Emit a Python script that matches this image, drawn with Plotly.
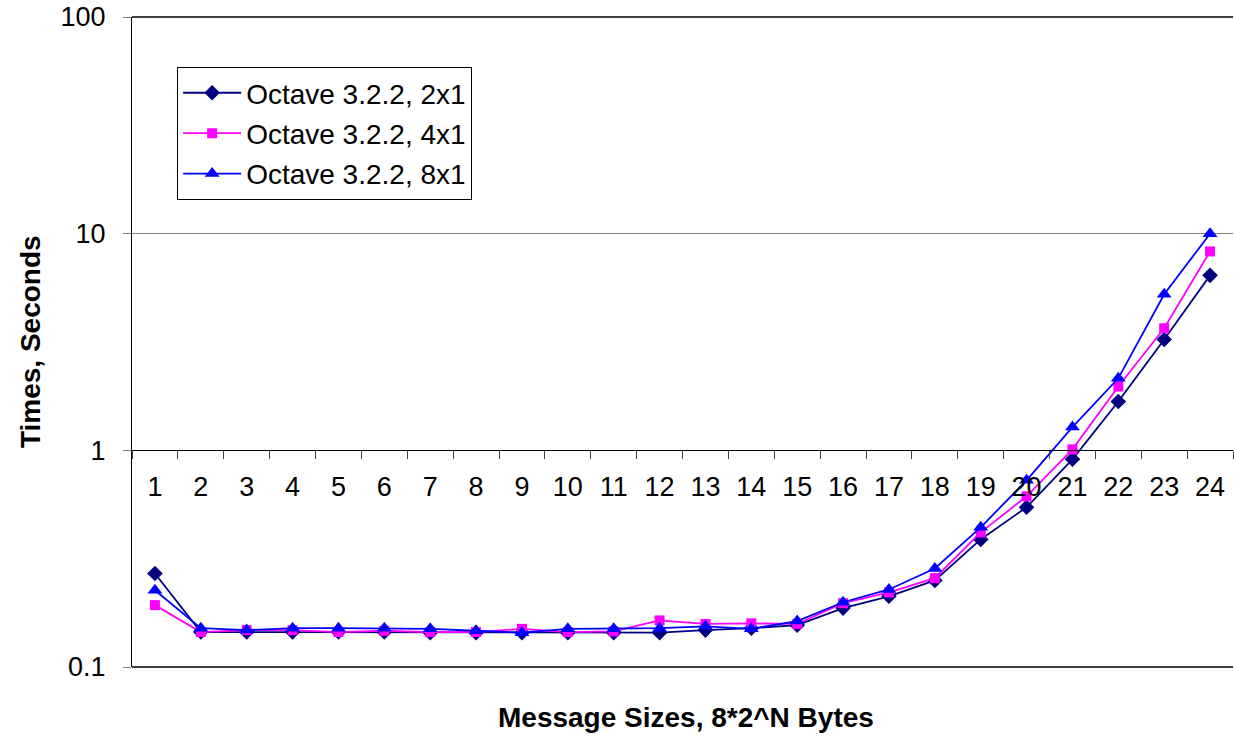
import plotly.graph_objects as go

# Message size exponent N (size = 8*2^N bytes)
sizes = [str(n) for n in range(1, 25)]

# Elapsed times in seconds for each process layout
t_2x1 = [0.270, 0.145, 0.145, 0.145, 0.145, 0.145, 0.144, 0.144, 0.144, 0.144,
         0.144, 0.144, 0.148, 0.151, 0.156, 0.187, 0.212, 0.251, 0.388, 0.546,
         0.909, 1.68, 3.25, 6.42]
t_4x1 = [0.193, 0.145, 0.148, 0.148, 0.145, 0.147, 0.145, 0.145, 0.150, 0.145,
         0.146, 0.164, 0.158, 0.159, 0.158, 0.197, 0.221, 0.257, 0.418, 0.613,
         1.01, 1.97, 3.66, 8.28]
t_8x1 = [0.226, 0.151, 0.148, 0.151, 0.151, 0.151, 0.150, 0.147, 0.144, 0.150,
         0.150, 0.151, 0.154, 0.150, 0.163, 0.199, 0.228, 0.285, 0.441, 0.727,
         1.28, 2.15, 5.25, 10.0]

series_names = ["Octave 3.2.2, 2x1", "Octave 3.2.2, 4x1", "Octave 3.2.2, 8x1"]
series_colors = ["#000080", "#FF00FF", "#0000FF"]
series_symbols = ["diamond", "square", "triangle-up"]
series_sizes = [12, 10, 13]

y_ticks = [0.1, 1, 10, 100]
y_tick_text = ["0.1", "1", "10", "100"]

FONT = "Liberation Sans, Arial, sans-serif"

fig = go.Figure()
for i, (name, vals) in enumerate(zip(series_names, [t_2x1, t_4x1, t_8x1])):
    fig.add_trace(go.Scatter(
        x=sizes, y=vals, name=name, mode="lines+markers",
        legendgroup=f"g{i}",
        line=dict(color=series_colors[i], width=1.8),
        marker=dict(symbol=series_symbols[i], size=series_sizes[i],
                    color=series_colors[i], line=dict(width=0)),
    ))

fig.update_layout(
    width=1234, height=738,
    margin=dict(l=132, r=1, t=17, b=71),
    paper_bgcolor="white", plot_bgcolor="white",
    font=dict(family=FONT, color="black", size=27),
    showlegend=True,
    legend=dict(
        x=0.041, y=0.923, xanchor="left", yanchor="top",
        bgcolor="white", bordercolor="black", borderwidth=1,
        font=dict(family=FONT, size=28, color="black"),
        itemwidth=58, tracegroupgap=1,
    ),
    xaxis=dict(
        type="category", range=[-0.5, 23.5],
        anchor="free", position=0.3338,
        showline=True, linecolor="black", linewidth=1,
        ticks="outside", ticklen=8, tickcolor="#404040", tickwidth=1,
        tickson="boundaries", ticklabelstandoff=13,
        showgrid=False, zeroline=False,
        tickfont=dict(family=FONT, size=27, color="black"),
    ),
    yaxis=dict(
        type="log", range=[-1, 2],
        tickvals=y_ticks, ticktext=y_tick_text,
        showline=True, linecolor="black", linewidth=1,
        ticks="outside", ticklen=8, tickcolor="#808080", tickwidth=1,
        ticklabelstandoff=12,
        showgrid=True, gridcolor="#808080", gridwidth=1,
        zeroline=False,
        tickfont=dict(family=FONT, size=27, color="black"),
    ),
    shapes=[
        dict(type="line", xref="paper", yref="paper", x0=0, x1=1, y0=1, y1=1,
             line=dict(color="black", width=1.5)),
        dict(type="line", xref="paper", yref="paper", x0=0, x1=1, y0=0, y1=0,
             line=dict(color="black", width=1.5)),
    ],
    annotations=[
        dict(text="<b>Times, Seconds</b>", xref="paper", yref="paper",
             x=-0.0926, y=0.5, xanchor="center", yanchor="middle",
             textangle=-90, showarrow=False,
             font=dict(family=FONT, size=28, color="black")),
        dict(text="<b>Message Sizes, 8*2^N Bytes</b>", xref="paper", yref="paper",
             x=0.503, y=-0.077, xanchor="center", yanchor="middle",
             showarrow=False,
             font=dict(family=FONT, size=28, color="black")),
    ],
)

fig.write_html("out.html")
